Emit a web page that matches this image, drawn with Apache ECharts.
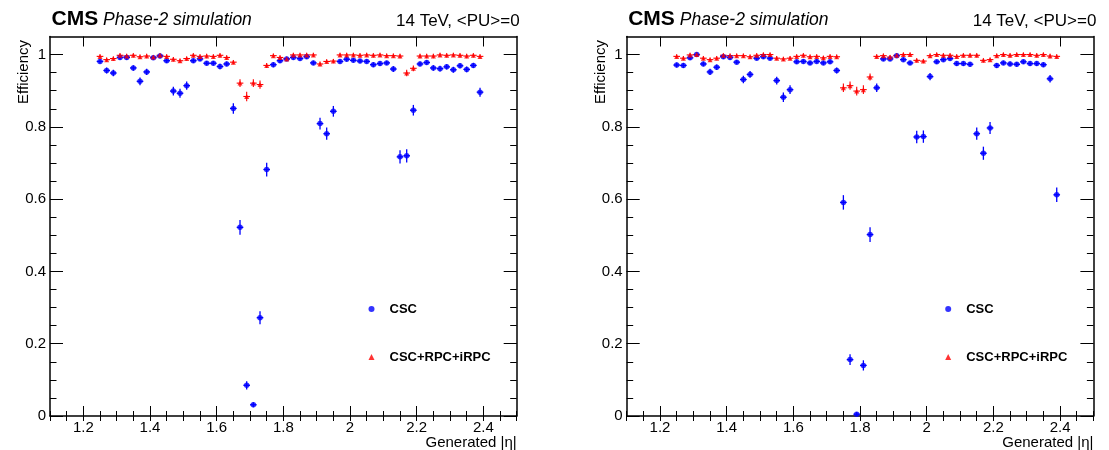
<!DOCTYPE html>
<html>
<head>
<meta charset="utf-8">
<script src="https://cdn.jsdelivr.net/npm/echarts@6/dist/echarts.min.js"></script>
<style>
html,body{margin:0;padding:0;background:#fff;}
#chart{width:1109px;height:450px;}
</style>
</head>
<body>
<div id="chart"></div>
<script>
// ---- data ----
const ETA = [1.25,1.27,1.29,1.31,1.33,1.35,1.37,1.39,1.41,1.43,1.45,1.47,1.49,1.51,1.53,1.55,1.57,1.59,1.61,1.63,
  1.65,1.67,1.69,1.71,1.73,1.75,1.77,1.79,1.81,1.83,1.85,1.87,1.89,1.91,1.93,1.95,1.97,1.99,2.01,2.03,
  2.05,2.07,2.09,2.11,2.13,2.15,2.17,2.19,2.21,2.23,2.25,2.27,2.29,2.31,2.33,2.35,2.37,2.39];

const CSC_LEFT = [0.981,0.956,0.949,0.992,0.992,0.963,0.926,0.952,0.991,0.996,0.983,0.899,0.893,0.914,0.983,0.988,0.976,0.976,0.967,0.974,
  0.851,0.522,0.085,0.031,0.272,0.682,0.972,0.983,0.988,0.992,0.989,0.994,0.977,0.809,0.781,0.843,0.981,0.987,0.984,0.982,
  0.981,0.972,0.975,0.977,0.960,0.717,0.720,0.846,0.974,0.978,0.963,0.961,0.966,0.958,0.969,0.959,0.970,0.896];

const ALL_LEFT = [0.995,0.986,0.989,0.998,0.996,0.998,0.994,0.996,0.993,0.998,0.995,0.987,0.983,0.989,0.998,0.995,0.996,0.995,0.998,0.992,
  0.979,0.921,0.884,0.921,0.917,0.970,0.997,0.992,0.988,0.999,0.999,0.999,0.999,0.974,0.981,0.982,0.999,0.999,0.999,0.998,
  0.999,0.998,0.999,0.997,0.997,0.996,0.949,0.962,0.996,0.996,0.996,0.999,0.998,0.999,0.998,0.996,0.998,0.995];

const CSC_RIGHT = [0.971,0.970,0.991,1.000,0.974,0.952,0.965,0.994,0.992,0.979,0.931,0.945,0.990,0.994,0.990,0.928,0.882,0.903,0.980,0.981,
  0.977,0.981,0.977,0.980,0.956,0.591,0.156,0.005,0.140,0.502,0.908,0.988,0.988,0.997,0.986,0.977,0.772,0.773,0.939,0.980,
  0.986,0.989,0.975,0.975,0.973,0.781,0.727,0.797,0.970,0.977,0.974,0.973,0.980,0.975,0.975,0.972,0.933,0.612];

const ALL_RIGHT = [0.995,0.990,0.999,1.000,0.990,0.986,0.990,0.998,0.997,0.997,0.997,0.994,0.998,1.000,1.000,0.990,0.988,0.990,0.995,0.998,
  0.994,0.995,0.991,0.995,0.994,0.908,0.914,0.899,0.903,0.938,0.995,0.997,0.993,0.998,1.000,1.000,0.984,0.982,0.997,1.000,
  0.998,0.998,0.995,0.998,0.998,0.998,0.984,0.986,0.997,1.000,0.998,1.000,1.000,1.000,0.998,1.000,0.996,0.995];

const X_TICKS = [1.2,1.4,1.6,1.8,2,2.2,2.4];
const Y_TICKS = [0,0.2,0.4,0.6,0.8,1];
const SERIES_NAMES = ['CSC','CSC+RPC+iRPC'];
const TITLE_MAIN = 'CMS';
const TITLE_SUB = 'Phase-2 simulation';
const TITLE_RIGHT = '14 TeV, <PU>=0';
const X_TITLE = 'Generated |\u03b7|';
const Y_TITLE = 'Efficiency';

// ---- layout / style ----
const FONT = '"Liberation Sans", Arial, Helvetica, sans-serif';
const BIN_HALF = 0.01;
const NEVT = 600;
const X_MIN = 1.1, X_MAX = 2.5, Y_MIN = 0, Y_MAX = 1.05;
const X_MINOR = [], Y_MINOR = [];
for (let k = 0; k <= 28; k++) X_MINOR.push(+(1.1 + 0.05 * k).toFixed(2));
for (let k = 0; k <= 20; k++) Y_MINOR.push(+(0.05 * k).toFixed(2));

const PANELS = [
  {left: 50, csc: CSC_LEFT, all: ALL_LEFT},
  {left: 626.7, csc: CSC_RIGHT, all: ALL_RIGHT}
];
const GTOP = 36.5, GW = 466.7, GH = 380.2;

function binErr(v) { return Math.max(0.006, Math.sqrt(v * (1 - v) / NEVT)); }

function errRender(color, lw) {
  return function (params, api) {
    const x = api.value(0), y = api.value(1), e = api.value(2);
    const l = api.coord([x - BIN_HALF, y]), r = api.coord([x + BIN_HALF, y]);
    const t = api.coord([x, Math.min(y + e, Y_MAX)]), b = api.coord([x, Math.max(y - e, 0)]);
    return {type: 'group', children: [
      {type: 'line', shape: {x1: l[0], y1: l[1], x2: r[0], y2: r[1]}, style: {stroke: color, lineWidth: lw}},
      {type: 'line', shape: {x1: t[0], y1: t[1], x2: b[0], y2: b[1]}, style: {stroke: color, lineWidth: lw}}
    ]};
  };
}

const grid = [], xAxis = [], yAxis = [], series = [], legend = [], title = [], graphic = [];
const blackLine = {color: '#000', width: 1.5};

PANELS.forEach((p, g) => {
  grid.push({left: p.left, top: GTOP, width: GW, height: GH, containLabel: false});
  const xb = {gridIndex: g, type: 'value', min: X_MIN, max: X_MAX, splitLine: {show: false}};
  xAxis.push(Object.assign({}, xb, {position: 'bottom',
    axisLine: {show: true, onZero: false, lineStyle: blackLine},
    axisTick: {show: true, inside: true, length: 10, customValues: X_TICKS, lineStyle: {color: '#000', width: 1}},
    axisLabel: {show: true, customValues: X_TICKS, margin: 4, fontSize: 15, color: '#000', fontFamily: FONT},
    name: X_TITLE, nameLocation: 'end', nameGap: 0,
    nameTextStyle: {fontSize: 15, color: '#000', fontFamily: FONT, align: 'right', verticalAlign: 'top', padding: [19, 0, 0, 0]}
  }));
  xAxis.push(Object.assign({}, xb, {position: 'bottom', axisLine: {show: false},
    axisTick: {show: true, inside: true, length: 5, customValues: X_MINOR, lineStyle: {color: '#000', width: 1}},
    axisLabel: {show: false}}));
  xAxis.push(Object.assign({}, xb, {position: 'top',
    axisLine: {show: true, onZero: false, lineStyle: blackLine},
    axisTick: {show: true, inside: true, length: 10, customValues: X_TICKS, lineStyle: {color: '#000', width: 1}},
    axisLabel: {show: false}}));
  xAxis.push(Object.assign({}, xb, {position: 'top', axisLine: {show: false},
    axisTick: {show: true, inside: true, length: 5, customValues: X_MINOR, lineStyle: {color: '#000', width: 1}},
    axisLabel: {show: false}}));

  const yb = {gridIndex: g, type: 'value', min: Y_MIN, max: Y_MAX, splitLine: {show: false}};
  yAxis.push(Object.assign({}, yb, {position: 'left',
    axisLine: {show: true, onZero: false, lineStyle: blackLine},
    axisTick: {show: true, inside: true, length: 13, customValues: Y_TICKS, lineStyle: {color: '#000', width: 1}},
    axisLabel: {show: true, customValues: Y_TICKS, margin: 4, fontSize: 15, color: '#000', fontFamily: FONT}}));
  yAxis.push(Object.assign({}, yb, {position: 'left', axisLine: {show: false},
    axisTick: {show: true, inside: true, length: 6.5, customValues: Y_MINOR, lineStyle: {color: '#000', width: 1}},
    axisLabel: {show: false}}));
  yAxis.push(Object.assign({}, yb, {position: 'right',
    axisLine: {show: true, onZero: false, lineStyle: blackLine},
    axisTick: {show: true, inside: true, length: 13, customValues: Y_TICKS, lineStyle: {color: '#000', width: 1}},
    axisLabel: {show: false}}));
  yAxis.push(Object.assign({}, yb, {position: 'right', axisLine: {show: false},
    axisTick: {show: true, inside: true, length: 6.5, customValues: Y_MINOR, lineStyle: {color: '#000', width: 1}},
    axisLabel: {show: false}}));

  title.push({
    text: '{b|' + TITLE_MAIN + '}{i| ' + TITLE_SUB + '}', left: p.left + 1.5, top: 9, padding: 0,
    textStyle: {rich: {
      b: {fontSize: 21, fontWeight: 'bold', fontFamily: FONT, color: '#000'},
      i: {fontSize: 17.5, fontStyle: 'italic', fontWeight: 'normal', fontFamily: FONT, color: '#000', padding: [2, 0, 0, 0]}
    }}
  });
  title.push({text: TITLE_RIGHT, left: p.left + 346, top: 13, padding: 0,
    textStyle: {fontSize: 17, fontWeight: 'normal', fontFamily: FONT, color: '#000'}});

  legend.push({data: SERIES_NAMES, orient: 'vertical', left: p.left + 318.5, top: 302,
    itemWidth: 6, itemHeight: 6, itemGap: 34, selectedMode: false, padding: 0,
    textStyle: {fontSize: 13, fontWeight: 'bold', fontFamily: FONT, color: '#000', lineHeight: 14, padding: [0, 0, 0, 10]}});

  graphic.push({type: 'text', x: p.left - 26, y: 40, rotation: Math.PI / 2,
    style: {text: Y_TITLE, fontSize: 15, fontFamily: FONT, fill: '#000', align: 'right', verticalAlign: 'middle'}});
});

// scatter markers first (legend icons come from these)
PANELS.forEach((p, g) => {
  series.push({name: SERIES_NAMES[0], type: 'scatter', xAxisIndex: 4 * g, yAxisIndex: 4 * g,
    symbol: 'circle', symbolSize: 5.5, itemStyle: {color: '#0000ff'}, z: 4,
    data: ETA.map((e, i) => [e, p.csc[i]])});
  series.push({name: SERIES_NAMES[1], type: 'scatter', xAxisIndex: 4 * g, yAxisIndex: 4 * g,
    symbol: 'triangle', symbolSize: 5, itemStyle: {color: '#ff0000'}, z: 5,
    data: ETA.map((e, i) => [e, p.all[i]])});
});
PANELS.forEach((p, g) => {
  series.push({name: SERIES_NAMES[0], type: 'custom', xAxisIndex: 4 * g, yAxisIndex: 4 * g, z: 3,
    renderItem: errRender('#0000ff', 1.3), encode: {x: 0, y: 1},
    data: ETA.map((e, i) => [e, p.csc[i], binErr(p.csc[i])])});
  series.push({name: SERIES_NAMES[1], type: 'custom', xAxisIndex: 4 * g, yAxisIndex: 4 * g, z: 3,
    renderItem: errRender('#ff0000', 1.1), encode: {x: 0, y: 1},
    data: ETA.map((e, i) => [e, p.all[i], binErr(p.all[i])])});
});

const chart = echarts.init(document.getElementById('chart'), null, {renderer: 'canvas'});
chart.setOption({
  animation: false,
  backgroundColor: '#fff',
  textStyle: {fontFamily: FONT},
  title, legend, grid, xAxis, yAxis, series, graphic
});
</script>
</body>
</html>
